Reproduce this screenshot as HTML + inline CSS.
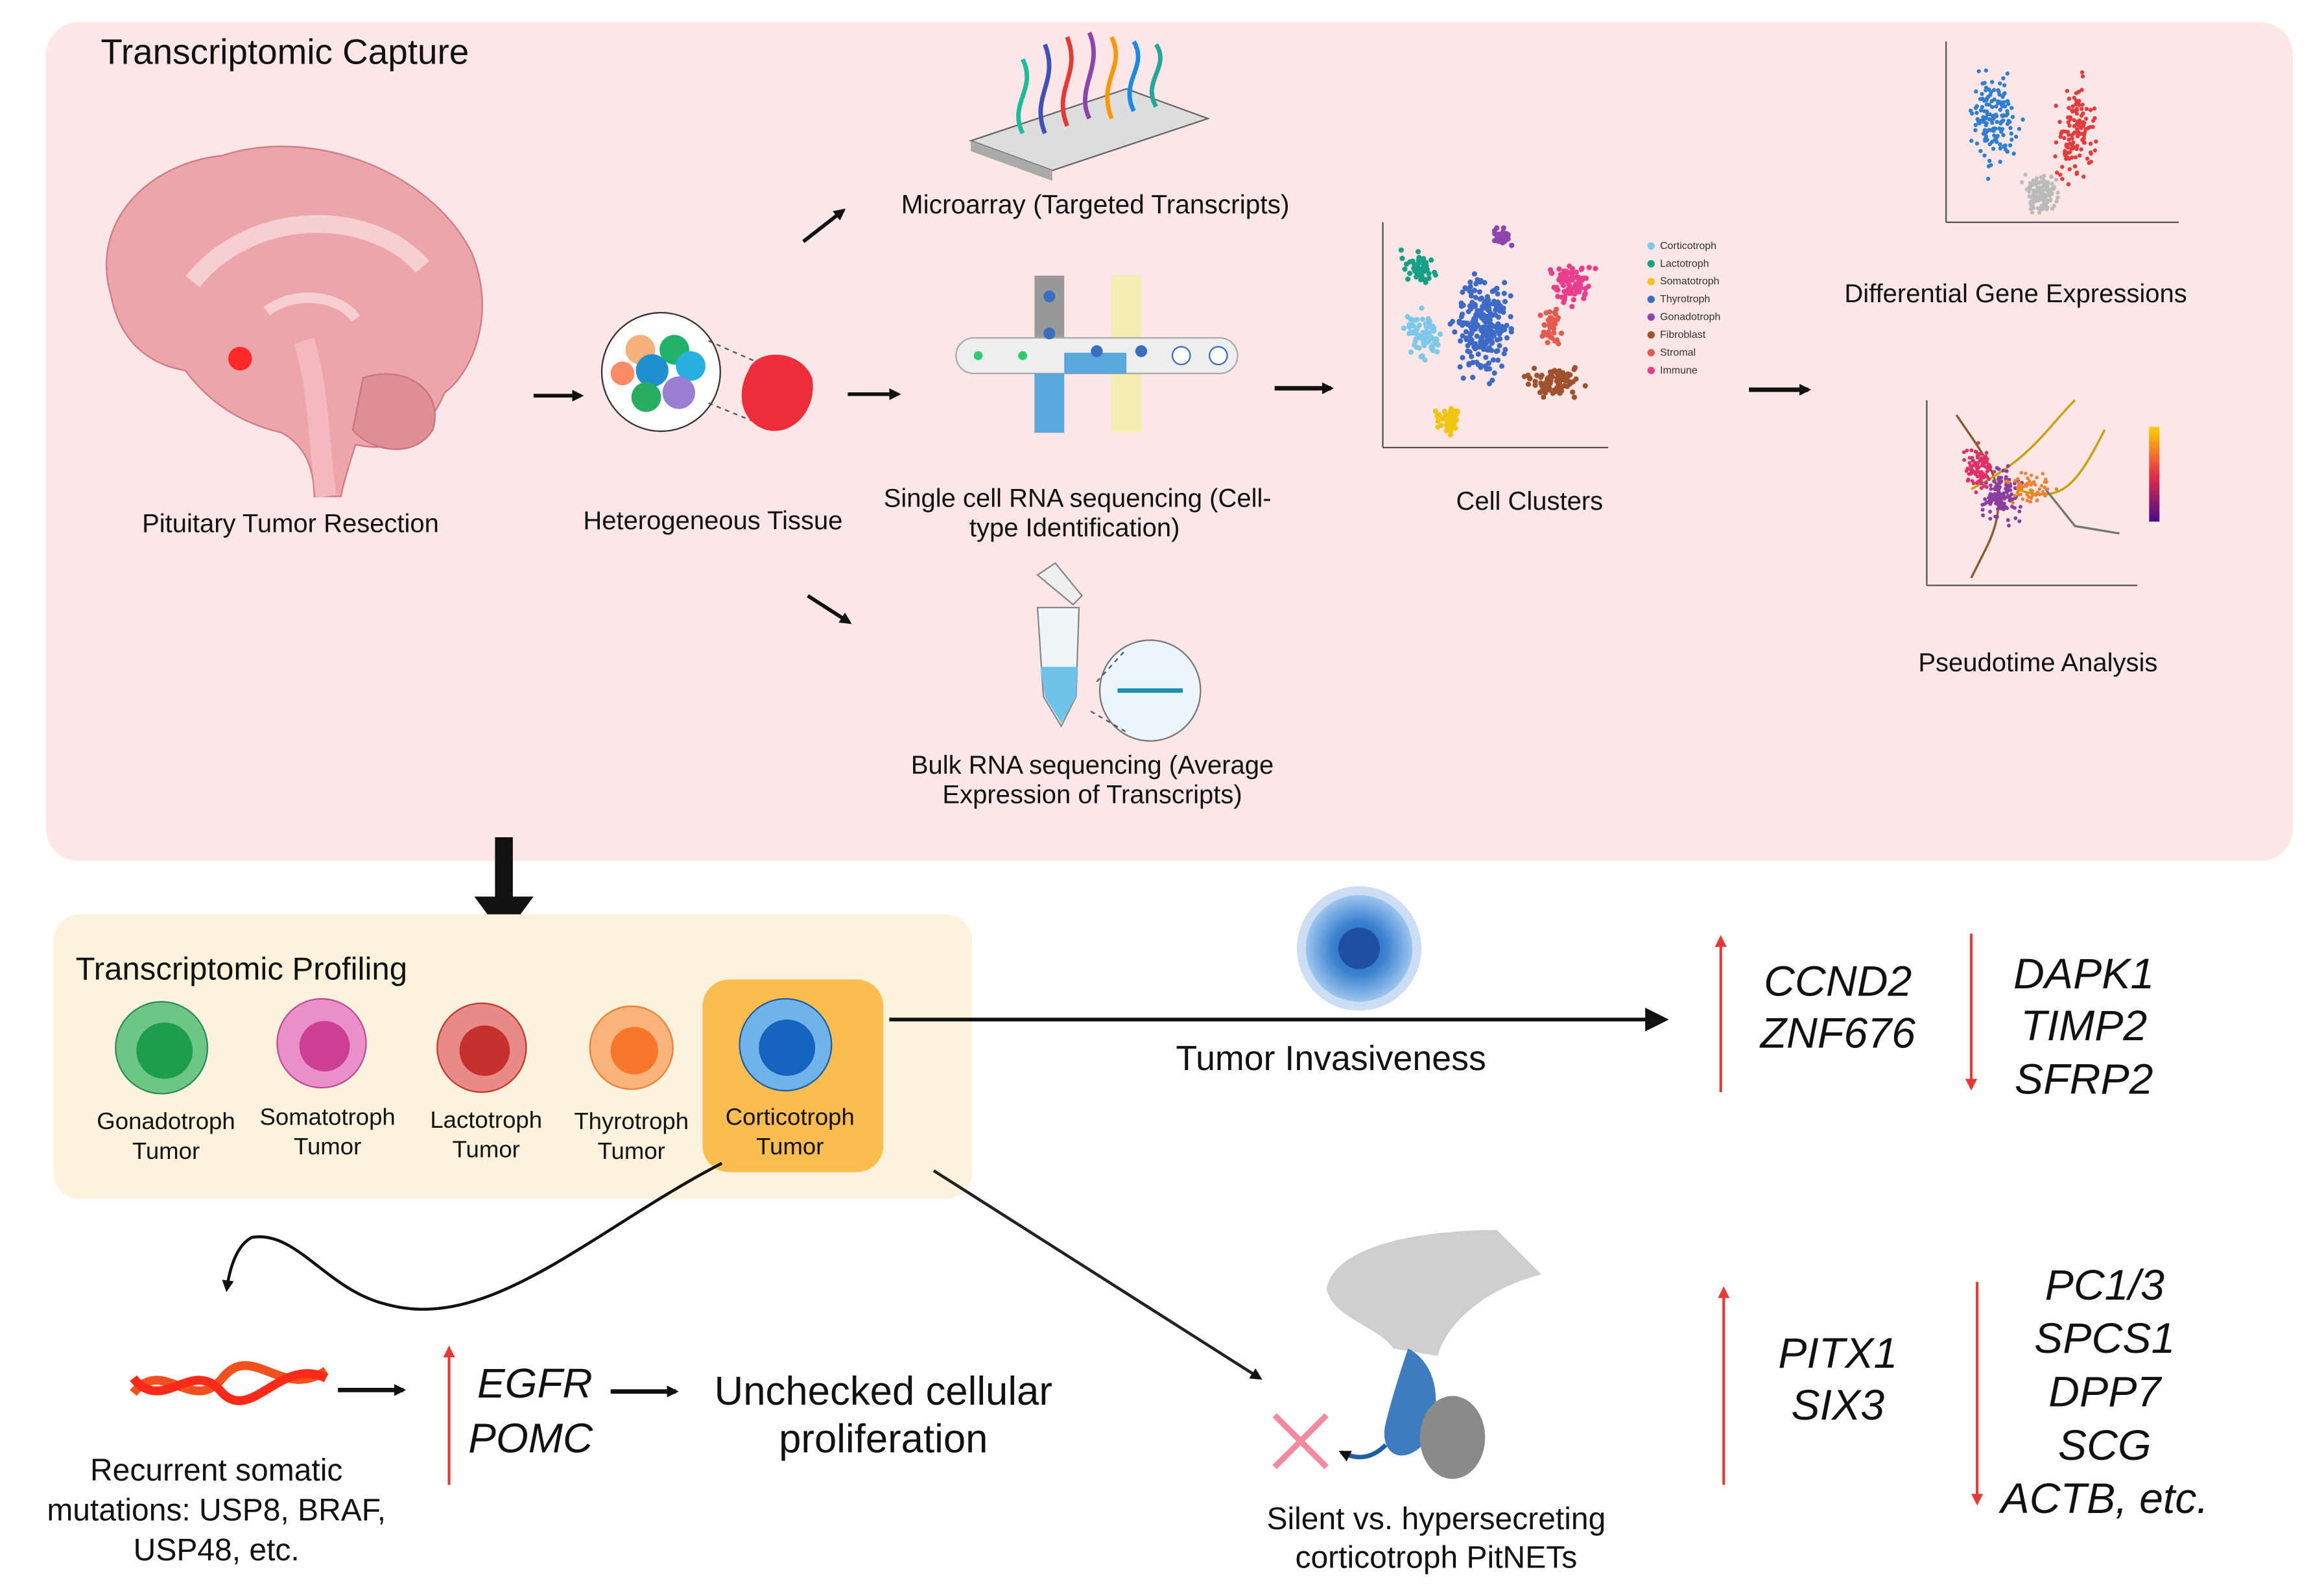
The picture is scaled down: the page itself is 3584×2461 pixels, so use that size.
<!DOCTYPE html>
<html><head><meta charset="utf-8"><style>
html,body{margin:0;padding:0;background:#fff;}
svg{display:block;font-family:"Liberation Sans",sans-serif;}
</style></head><body>
<svg id="s" width="3584" height="2461" viewBox="0 0 1568 1077" preserveAspectRatio="none" xmlns="http://www.w3.org/2000/svg">
<defs>
<marker id="ah" markerWidth="8" markerHeight="8" refX="6" refY="4" orient="auto" markerUnits="userSpaceOnUse"><path d="M0,0 L8,4 L0,8 z" fill="#111"/></marker>
<marker id="ahb" markerWidth="16" markerHeight="16" refX="12" refY="8" orient="auto" markerUnits="userSpaceOnUse"><path d="M0,0 L16,8 L0,16 z" fill="#111"/></marker>
<marker id="ahr" markerWidth="8" markerHeight="8" refX="4" refY="4" orient="auto" markerUnits="userSpaceOnUse"><path d="M0,0 L8,4 L0,8 z" fill="#e53935"/></marker>
<radialGradient id="cellb"><stop offset="0" stop-color="#1a5fb0"/><stop offset="0.5" stop-color="#3b82d0"/><stop offset="1" stop-color="#9cc5ee"/></radialGradient>
<linearGradient id="pt" x1="0" y1="0" x2="0" y2="1"><stop offset="0" stop-color="#ffd000"/><stop offset="0.5" stop-color="#e8304a"/><stop offset="1" stop-color="#4a0a8a"/></linearGradient>
</defs>
<rect x="31" y="15" width="1516" height="566" rx="22" fill="#fde6e6"/>
<text x="68" y="43" font-size="24" fill="#111">Transcriptomic Capture</text>
<!-- brain -->
<path d="M75,200 C60,150 100,110 150,105 C210,85 290,115 318,170 C335,210 320,250 300,265 C285,300 260,305 240,300 C235,315 232,325 230,335 L212,335 C212,315 205,300 190,292 C160,285 140,270 125,250 C95,245 80,225 75,200 z" fill="#eba5ab" stroke="#d07a85"/>
<path d="M245,255 C275,245 300,265 292,290 C280,310 250,305 238,290 z" fill="#e08d96" stroke="#c97580"/>
<path d="M130,190 C170,140 250,140 285,180" stroke="#f7cfd2" stroke-width="12" fill="none"/>
<path d="M180,210 C200,195 230,200 240,215" stroke="#f7cfd2" stroke-width="7" fill="none"/>
<path d="M205,230 C215,260 215,300 220,335" stroke="#f4b8be" stroke-width="14" fill="none"/>
<circle cx="162" cy="242" r="8" fill="#ff2a2a"/>
<text x="196" y="359" font-size="17.5" text-anchor="middle" fill="#111">Pituitary Tumor Resection</text>
<line x1="360" y1="267" x2="392" y2="267" stroke="#111" stroke-width="2.5" marker-end="url(#ah)"/>
<circle cx="446" cy="251" r="40" fill="#fff" stroke="#333"/>
<circle cx="432" cy="236" r="10" fill="#f7b27b"/><circle cx="455" cy="236" r="10" fill="#21b36a"/><circle cx="440" cy="250" r="11" fill="#1e90d0"/><circle cx="466" cy="247" r="10" fill="#29b0e0"/><circle cx="436" cy="268" r="10" fill="#27ae60"/><circle cx="458" cy="265" r="11" fill="#9b7fd0"/><circle cx="420" cy="252" r="8" fill="#ff8a65"/>
<line x1="478" y1="230" x2="510" y2="244" stroke="#555" stroke-dasharray="3,3"/><line x1="478" y1="272" x2="510" y2="285" stroke="#555" stroke-dasharray="3,3"/>
<path d="M505,250 C510,235 540,235 548,255 C552,280 530,298 512,288 C498,280 498,262 505,250 z" fill="#ee2d3a"/>
<text x="481" y="357" font-size="17.5" text-anchor="middle" fill="#111">Heterogeneous Tissue</text>
<line x1="542" y1="163" x2="569" y2="142" stroke="#111" stroke-width="2.5" marker-end="url(#ah)"/>
<line x1="572" y1="266" x2="606" y2="266" stroke="#111" stroke-width="2.5" marker-end="url(#ah)"/>
<line x1="545" y1="402" x2="573" y2="420" stroke="#111" stroke-width="2.5" marker-end="url(#ah)"/>
<polygon points="655,95 760,60 815,80 710,115" fill="#ddd" stroke="#666"/>
<polygon points="655,95 710,115 710,122 655,102" fill="#aaa"/>
<g fill="none" stroke-width="3"><path d="M690,90 C680,70 700,60 690,40" stroke="#1abc9c"/><path d="M705,90 C695,65 715,55 705,30" stroke="#3f51b5"/><path d="M720,85 C710,60 730,50 720,25" stroke="#e53935"/><path d="M735,80 C725,60 745,45 735,22" stroke="#8e44ad"/><path d="M750,80 C740,55 760,45 750,25" stroke="#ff9800"/><path d="M765,75 C755,55 775,45 765,28" stroke="#1e88e5"/><path d="M780,72 C770,55 790,45 780,30" stroke="#26a69a"/></g>
<text x="739" y="144" font-size="17.8" text-anchor="middle" fill="#111">Microarray (Targeted Transcripts)</text>
<rect x="698" y="186" width="20" height="106" fill="#999"/>
<rect x="750" y="186" width="20" height="106" fill="#f5ecb0"/>
<rect x="645" y="228" width="190" height="24" rx="12" fill="#eee" stroke="#aaa"/>
<path d="M698,292 L698,252 L760,252 L760,238 L718,238 L718,292 z" fill="#5aa7e0"/>
<circle cx="708" cy="200" r="4" fill="#3a6fc0"/><circle cx="708" cy="225" r="4" fill="#3a6fc0"/><circle cx="740" cy="237" r="4" fill="#3a6fc0"/><circle cx="770" cy="237" r="4" fill="#3a6fc0"/><circle cx="797" cy="240" r="6" fill="#fff" stroke="#3a6fc0"/><circle cx="822" cy="240" r="6" fill="#fff" stroke="#3a6fc0"/><circle cx="660" cy="240" r="3" fill="#2ecc71"/><circle cx="690" cy="240" r="3" fill="#2ecc71"/>
<text x="727" y="342" font-size="17.5" text-anchor="middle" fill="#111">Single cell RNA sequencing (Cell-</text>
<text x="725" y="362" font-size="17.5" text-anchor="middle" fill="#111">type Identification)</text>
<path d="M700,410 L728,410 L726,470 L716,490 L704,470 z" fill="#eef6f8" stroke="#888"/>
<path d="M702,450 L727,450 L726,470 L716,488 L705,470 z" fill="#6fc3ea"/>
<path d="M700,388 L712,380 L730,402 L724,408 z" fill="#eee" stroke="#888"/>
<circle cx="776" cy="466" r="34" fill="#eaf6fb" stroke="#777"/>
<line x1="740" y1="460" x2="760" y2="438" stroke="#555" stroke-dasharray="3,3"/><line x1="736" y1="480" x2="760" y2="494" stroke="#555" stroke-dasharray="3,3"/>
<line x1="754" y1="466" x2="798" y2="466" stroke="#1b8fb0" stroke-width="3"/>
<text x="737" y="522" font-size="17.5" text-anchor="middle" fill="#111">Bulk RNA sequencing (Average</text>
<text x="737" y="542" font-size="17.5" text-anchor="middle" fill="#111">Expression of Transcripts)</text>
<line x1="860" y1="262" x2="898" y2="262" stroke="#111" stroke-width="3" marker-end="url(#ah)"/>
<line x1="933" y1="150" x2="933" y2="302" stroke="#555"/><line x1="933" y1="302" x2="1085" y2="302" stroke="#555"/>
<g id="tsne"></g>
<g font-size="7" fill="#333"><text x="1120" y="168">Corticotroph</text><text x="1120" y="180">Lactotroph</text><text x="1120" y="192">Somatotroph</text><text x="1120" y="204">Thyrotroph</text><text x="1120" y="216">Gonadotroph</text><text x="1120" y="228">Fibroblast</text><text x="1120" y="240">Stromal</text><text x="1120" y="252">Immune</text></g>
<g><circle cx="1114" cy="166" r="2.5" fill="#7ec8ea"/><circle cx="1114" cy="178" r="2.5" fill="#16a085"/><circle cx="1114" cy="190" r="2.5" fill="#f1c40f"/><circle cx="1114" cy="202" r="2.5" fill="#3d6bc6"/><circle cx="1114" cy="214" r="2.5" fill="#8e44ad"/><circle cx="1114" cy="226" r="2.5" fill="#a0522d"/><circle cx="1114" cy="238" r="2.5" fill="#e55a4f"/><circle cx="1114" cy="250" r="2.5" fill="#e83e8c"/></g>
<text x="1032" y="344" font-size="17.5" text-anchor="middle" fill="#111">Cell Clusters</text>
<line x1="1180" y1="263" x2="1220" y2="263" stroke="#111" stroke-width="3" marker-end="url(#ah)"/>
<line x1="1313" y1="28" x2="1313" y2="150" stroke="#555"/><line x1="1313" y1="150" x2="1470" y2="150" stroke="#555"/>
<g id="volc"></g>
<text x="1360" y="204" font-size="17.5" text-anchor="middle" fill="#111">Differential Gene Expressions</text>
<line x1="1300" y1="270" x2="1300" y2="395" stroke="#555"/><line x1="1300" y1="395" x2="1442" y2="395" stroke="#555"/>
<g fill="none" stroke-width="1.5"><path d="M1320,280 C1340,310 1360,330 1340,370 L1330,390" stroke="#8a5a2a"/><path d="M1330,330 C1370,310 1380,290 1400,270" stroke="#c8a000"/><path d="M1360,330 C1390,340 1400,330 1420,290" stroke="#c8a000"/><path d="M1380,330 L1400,355 L1430,360" stroke="#777"/></g>
<g id="umap"></g>
<rect x="1450" y="288" width="7" height="64" fill="url(#pt)"/>
<text x="1375" y="453" font-size="17.5" text-anchor="middle" fill="#111">Pseudotime Analysis</text>
<line x1="340" y1="565" x2="340" y2="620" stroke="#111" stroke-width="12"/>
<path d="M320,605 L360,605 L340,632 z" fill="#111"/>
<rect x="36" y="617" width="620" height="192" rx="18" fill="#fdf2db"/>
<text x="51" y="661" font-size="21.5" fill="#111">Transcriptomic Profiling</text>
<rect x="474" y="661" width="122" height="130" rx="18" fill="#fbbd4f"/>
<circle cx="109" cy="707" r="31" fill="#6cc785" stroke="#2e8b57"/><circle cx="111" cy="709" r="19" fill="#1e9e4a"/>
<circle cx="217" cy="704" r="30" fill="#eb8fca" stroke="#c04b98"/><circle cx="219" cy="706" r="17" fill="#cc3f95"/>
<circle cx="325" cy="707" r="30" fill="#e98a86" stroke="#c0392b"/><circle cx="327" cy="709" r="17" fill="#c8302d"/>
<circle cx="426" cy="707" r="28" fill="#fbb27b" stroke="#ee8033"/><circle cx="428" cy="709" r="16" fill="#f6762a"/>
<circle cx="530" cy="705" r="31" fill="#6fb3ea" stroke="#1f5fa0"/><circle cx="531" cy="707" r="19" fill="#1565c0"/>
<g font-size="16" fill="#111" text-anchor="middle">
<text x="112" y="762">Gonadotroph</text><text x="112" y="782">Tumor</text>
<text x="221" y="759">Somatotroph</text><text x="221" y="779">Tumor</text>
<text x="328" y="761">Lactotroph</text><text x="328" y="781">Tumor</text>
<text x="426" y="762">Thyrotroph</text><text x="426" y="782">Tumor</text>
<text x="533" y="759">Corticotroph</text><text x="533" y="779">Tumor</text>
</g>
<circle cx="917" cy="640" r="42" fill="#a9c8ec" opacity="0.6"/>
<circle cx="917" cy="640" r="36" fill="url(#cellb)"/>
<circle cx="917" cy="640" r="14" fill="#1f4fa0"/>
<line x1="600" y1="688" x2="1122" y2="688" stroke="#111" stroke-width="2.5" marker-end="url(#ahb)"/>
<text x="898" y="722" font-size="23.5" text-anchor="middle" fill="#111">Tumor Invasiveness</text>
<line x1="1161" y1="737" x2="1161" y2="635" stroke="#e53935" stroke-width="1.8" marker-end="url(#ahr)"/>
<line x1="1330" y1="630" x2="1330" y2="732" stroke="#e53935" stroke-width="1.8" marker-end="url(#ahr)"/>
<g font-size="29" font-style="italic" fill="#111" text-anchor="middle">
<text x="1240" y="672">CCND2</text><text x="1240" y="707">ZNF676</text>
<text x="1406" y="667">DAPK1</text><text x="1406" y="702">TIMP2</text><text x="1406" y="738">SFRP2</text>
<text x="322" y="943" font-size="28" text-anchor="start">EGFR</text><text x="316" y="980" font-size="28" text-anchor="start">POMC</text>
<text x="1240" y="923">PITX1</text><text x="1240" y="958">SIX3</text>
<text x="1420" y="877">PC1/3</text><text x="1420" y="913">SPCS1</text><text x="1420" y="949">DPP7</text><text x="1420" y="985">SCG</text><text x="1420" y="1021">ACTB, etc.</text>
</g>
<line x1="1163" y1="1002" x2="1163" y2="872" stroke="#e53935" stroke-width="1.8" marker-end="url(#ahr)"/>
<line x1="1334" y1="865" x2="1334" y2="1012" stroke="#e53935" stroke-width="1.8" marker-end="url(#ahr)"/>
<line x1="303" y1="1002" x2="303" y2="912" stroke="#e53935" stroke-width="1.8" marker-end="url(#ahr)"/>
<path d="M487,785 C400,830 330,900 260,880 C220,870 200,830 170,835 C160,840 155,855 153,870" fill="none" stroke="#111" stroke-width="2" marker-end="url(#ah)"/>
<path d="M90,940 C110,915 130,955 150,930 C170,905 190,945 220,925" fill="none" stroke="#f0511e" stroke-width="6"/>
<path d="M90,930 C110,955 130,915 150,940 C170,960 190,915 220,930" fill="none" stroke="#ff2a1a" stroke-width="6"/>
<line x1="228" y1="938" x2="272" y2="938" stroke="#111" stroke-width="3" marker-end="url(#ah)"/>
<line x1="412" y1="939" x2="456" y2="939" stroke="#111" stroke-width="3" marker-end="url(#ah)"/>
<g font-size="21" fill="#111" text-anchor="middle">
<text x="146" y="999">Recurrent somatic</text><text x="146" y="1026">mutations: USP8, BRAF,</text><text x="146" y="1053">USP48, etc.</text>
</g>
<text x="596" y="948" font-size="27" text-anchor="middle" fill="#111">Unchecked cellular</text>
<text x="596" y="980" font-size="27" text-anchor="middle" fill="#111">proliferation</text>
<line x1="630" y1="790" x2="850" y2="930" stroke="#222" stroke-width="2" marker-end="url(#ah)"/>
<path d="M895,870 C900,840 960,830 1010,830 L1040,860 C1000,870 975,895 970,915 L940,910 C930,895 900,890 895,870 z" fill="#cfcfcf"/>
<path d="M950,910 C970,920 975,950 960,975 C945,990 930,980 935,960 C940,940 945,925 950,910 z" fill="#3d7dbf"/>
<ellipse cx="980" cy="970" rx="22" ry="28" fill="#8a8a8a"/>
<path d="M935,975 C925,985 915,985 905,980" stroke="#1f5fa0" stroke-width="3" fill="none" marker-end="url(#ah)"/>
<line x1="860" y1="955" x2="895" y2="990" stroke="#f28aa0" stroke-width="4"/><line x1="895" y1="955" x2="860" y2="990" stroke="#f28aa0" stroke-width="4"/>
<text x="969" y="1032" font-size="21" text-anchor="middle" fill="#111">Silent vs. hypersecreting</text>
<text x="969" y="1058" font-size="21" text-anchor="middle" fill="#111">corticotroph PitNETs</text>
</svg>
<script>
(function(){
var seed=7;function r(){seed=(seed*16807)%2147483647;return seed/2147483647;}
function g(){return (r()+r()+r()-1.5)/1.5;}
var ns="http://www.w3.org/2000/svg";
function dots(id,cx,cy,rx,ry,n,col,rad){var el=document.getElementById(id);for(var i=0;i<n;i++){var c=document.createElementNS(ns,"circle");c.setAttribute("cx",cx+g()*rx);c.setAttribute("cy",cy+g()*ry);c.setAttribute("r",rad);c.setAttribute("fill",col);el.appendChild(c);}}
dots("tsne",957,180,14,13,50,"#16a085",1.8);
dots("tsne",960,226,17,22,80,"#7ec8ea",1.8);
dots("tsne",1000,220,25,45,220,"#3d6bc6",1.8);
dots("tsne",1015,160,10,9,30,"#8e44ad",1.8);
dots("tsne",1060,190,18,20,90,"#e83e8c",1.8);
dots("tsne",1047,220,10,17,40,"#e55a4f",1.8);
dots("tsne",1048,258,25,13,80,"#a0522d",1.8);
dots("tsne",977,283,14,12,50,"#f1c40f",1.8);
dots("volc",1345,80,22,45,150,"#2f7fd1",1.4);
dots("volc",1400,90,18,45,130,"#e43b3b",1.4);
dots("volc",1378,130,16,18,120,"#bbb",1.4);
dots("umap",1350,335,18,25,140,"#8b3fa0",1.3);
dots("umap",1335,315,14,20,100,"#e0306a",1.3);
dots("umap",1370,330,25,15,60,"#f08030",1.2);
})();
</script>
</body></html>
